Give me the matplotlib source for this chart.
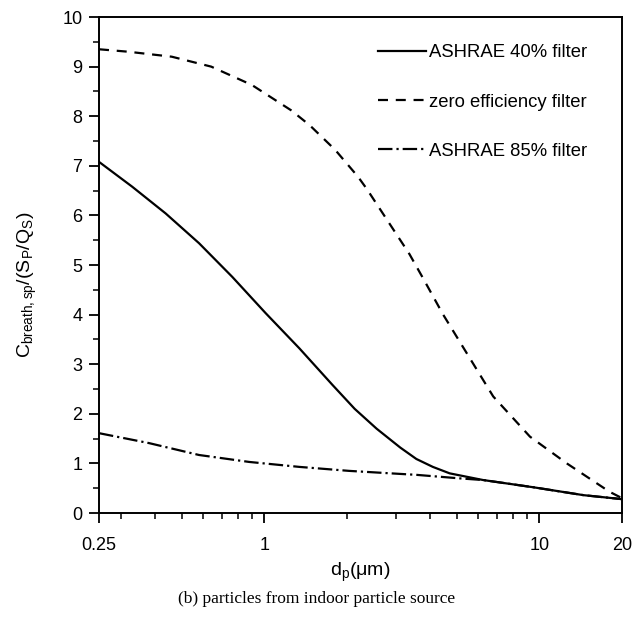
import numpy as np
import matplotlib
matplotlib.use("Agg")
import matplotlib.pyplot as plt
from matplotlib.ticker import FixedLocator, NullFormatter

plt.rcParams['font.family'] = ['Liberation Sans', 'DejaVu Sans']
plt.rcParams['mathtext.fontset'] = 'custom'
plt.rcParams['mathtext.rm'] = 'Liberation Sans'
plt.rcParams['mathtext.it'] = 'Liberation Sans'

# values
dp_40 = [0.25, 0.33, 0.437, 0.578, 0.764, 1.01, 1.34, 1.77, 2.13, 2.56,
         3.12, 3.57, 4.1, 4.72, 6.25, 9.5, 14.5, 20]
c_40 = [7.08, 6.58, 6.04, 5.44, 4.76, 4.03, 3.32, 2.58, 2.10, 1.70,
        1.32, 1.09, 0.93, 0.80, 0.665, 0.52, 0.36, 0.28]

dp_zero = [0.25, 0.32, 0.46, 0.64, 0.90, 1.25, 1.46, 1.81, 2.19, 2.36, 3.37,
           3.78, 4.47, 6.8, 9.25, 12.6, 18, 20]
c_zero = [9.35, 9.30, 9.20, 9.00, 8.63, 8.12, 7.82, 7.32, 6.78, 6.53, 5.22,
          4.73, 4.00, 2.35, 1.54, 1.00, 0.43, 0.30]

dp_85 = [0.25, 0.38, 0.578, 0.88, 1.34, 2.03, 3.09, 3.57, 5.1, 6.25, 9.5, 14.5, 20]
c_85 = [1.61, 1.41, 1.17, 1.03, 0.93, 0.85, 0.79, 0.77, 0.70, 0.665, 0.52, 0.36, 0.28]

labels = ['ASHRAE 40% filter', 'zero efficiency filter', 'ASHRAE 85% filter']

fig = plt.figure(figsize=(6.33, 6.19), dpi=100)
ax = fig.add_axes([0.1564, 0.1712, 0.8262, 0.8013])

ax.plot(dp_40, c_40, color='black', lw=1.6, label=labels[0])
ax.plot(dp_zero, c_zero, color='black', lw=1.6, dashes=(4.5, 3.5), label=labels[1])
ax.plot(dp_85, c_85, color='black', lw=1.6, dashes=(6.5, 1.8, 1, 1.8), label=labels[2])

ax.set_xscale('log')
ax.set_xlim(0.25, 20)
ax.set_ylim(0, 10)

ax.xaxis.set_major_locator(FixedLocator([0.25, 1, 10, 20]))
ax.set_xticklabels(['0.25', '1', '10', '20'])
ax.xaxis.set_minor_locator(FixedLocator([0.3, 0.4, 0.5, 0.6, 0.7, 0.8, 0.9,
                                         2, 3, 4, 5, 6, 7, 8, 9]))
ax.xaxis.set_minor_formatter(NullFormatter())
ax.set_yticks(range(0, 11))
ax.set_yticks(np.arange(0.5, 10, 1.0), minor=True)

ax.tick_params(which='major', direction='out', length=7, width=1.3, labelsize=13, pad=5)
ax.tick_params(which='minor', direction='out', length=4, width=1.1)
ax.tick_params(axis='x', which='major', pad=10)
for s in ax.spines.values():
    s.set_linewidth(1.4)

ax.set_ylabel(r'C$_{\mathrm{breath,sp}}$/(S$_{\mathrm{P}}$/Q$_{\mathrm{S}}$)', fontsize=14)
ax.yaxis.set_label_coords(-0.115, 0.46)
ax.set_xlabel(r'd$_{\mathrm{p}}$($\mu$m)', fontsize=14, labelpad=5)

leg = ax.legend(loc='upper right', bbox_to_anchor=(0.947, 0.960), frameon=False,
                fontsize=13.3, handlelength=2.6, handletextpad=0.15,
                labelspacing=1.75, borderaxespad=0)

fig.text(0.5, 0.026, '(b) particles from indoor particle source', ha='center',
         fontsize=12.5, family=['Liberation Serif', 'DejaVu Serif'])

fig.savefig('out.png', dpi=100)
